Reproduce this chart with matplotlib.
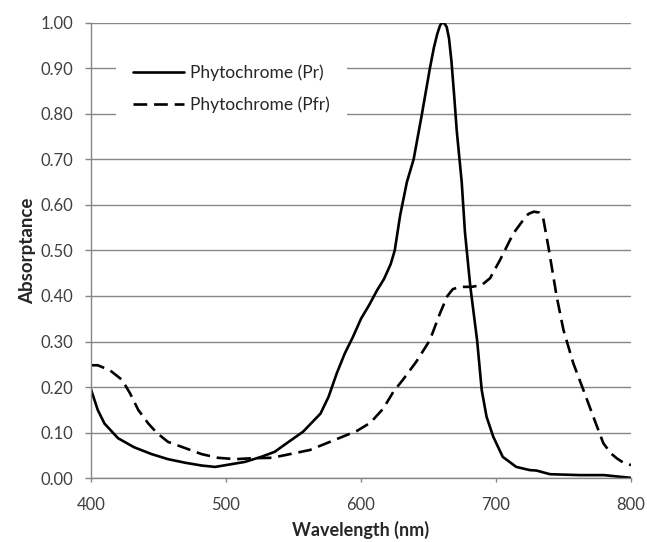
import matplotlib
matplotlib.use("Agg")
import matplotlib.pyplot as plt
from matplotlib.ticker import FormatStrFormatter, MultipleLocator

# absorption spectra, red-absorbing (Pr) and far-red-absorbing (Pfr) forms
pr_nm = [400, 405, 410, 420, 432, 445, 457, 470, 482, 492, 504, 514, 526, 536,
         545, 557, 570, 576, 582, 588, 594, 600, 606, 612, 617, 622, 625, 629,
         634, 639, 645, 651, 654, 656.5, 658.5, 660, 661.8, 663.5, 665.2, 667,
         669, 671, 674.6, 677, 681, 686, 689.4, 693, 698, 705, 715, 725, 730,
         735, 740, 762, 780, 800]
pr_abs = [0.195, 0.150, 0.120, 0.088, 0.068, 0.053, 0.042, 0.034, 0.028, 0.025,
          0.031, 0.036, 0.047, 0.058, 0.077, 0.102, 0.142, 0.179, 0.230, 0.274,
          0.310, 0.350, 0.380, 0.413, 0.437, 0.470, 0.500, 0.577, 0.650, 0.700,
          0.797, 0.899, 0.945, 0.975, 0.993, 1.000, 0.998, 0.990, 0.965, 0.915,
          0.840, 0.760, 0.650, 0.540, 0.420, 0.303, 0.194, 0.135, 0.091, 0.047,
          0.025, 0.018, 0.017, 0.013, 0.009, 0.007, 0.007, 0.001]

pfr_nm = [400, 405, 414, 423, 429, 435, 442.5, 449, 457, 470, 482, 494, 507,
          519, 534, 544, 562, 582, 597, 607, 616.5, 624, 631, 641, 651, 658.5,
          664, 668, 673.3, 682, 689.4, 695.6, 703, 712.8, 720, 724, 728,
          732, 735, 738.8, 745, 750, 757.3, 764.7, 772.1, 779.5, 785, 789.4,
          794, 800]
pfr_abs = [0.248, 0.248, 0.237, 0.216, 0.186, 0.150, 0.120, 0.099, 0.080, 0.066,
           0.053, 0.045, 0.042, 0.044, 0.045, 0.051, 0.062, 0.086, 0.104, 0.122,
           0.153, 0.190, 0.216, 0.256, 0.303, 0.362, 0.400, 0.415, 0.420, 0.420,
           0.424, 0.439, 0.479, 0.537, 0.566, 0.580, 0.585, 0.583, 0.570, 0.508,
           0.398, 0.325, 0.252, 0.194, 0.135, 0.077, 0.055, 0.044, 0.035, 0.029]

x_ticks = [400, 500, 600, 700, 800]

grid_col = "#868686"
text_col = "#404040"

plt.rcParams["font.family"] = ["Lato", "DejaVu Sans"]

fig = plt.figure(figsize=(6.47, 5.42), dpi=100)
ax = fig.add_axes([91 / 647, 1 - 478.3 / 542, 540 / 647, 455.8 / 542])

ax.plot(pr_nm, pr_abs, color="black", lw=1.9, label="Phytochrome (Pr)",
        solid_capstyle="round", solid_joinstyle="round")
ax.plot(pfr_nm, pfr_abs, color="black", lw=1.9, label="Phytochrome (Pfr)",
        dashes=(5.2, 2.6))

ax.set_xlim(400, 800)
ax.set_ylim(0, 1.0)
ax.set_xticks(x_ticks)
ax.yaxis.set_major_locator(MultipleLocator(0.1))
ax.yaxis.set_major_formatter(FormatStrFormatter("%.2f"))

ax.grid(axis="y", color=grid_col, lw=1.0)
ax.set_axisbelow(True)
for side in ("top", "right"):
    ax.spines[side].set_visible(False)
for side in ("left", "bottom"):
    ax.spines[side].set_color(grid_col)
    ax.spines[side].set_linewidth(1.0)

ax.tick_params(axis="y", length=4.3, width=1.0, color=grid_col,
               labelsize=12, labelcolor=text_col, pad=8.5)
ax.tick_params(axis="x", length=3, width=1.0, color=grid_col,
               labelsize=12, labelcolor=text_col, pad=10.5)

ax.set_xlabel("Wavelength (nm)", fontsize=13, fontweight="bold",
              color="#262626", labelpad=6)
ax.set_ylabel("Absorptance", fontsize=13.5, fontweight="bold",
              color="#262626", labelpad=3)

leg = ax.legend(loc="upper left", bbox_to_anchor=(116 / 647, 1 - 47 / 542),
                bbox_transform=fig.transFigure, borderaxespad=0,
                fontsize=12.5, handlelength=2.9, handletextpad=0.35,
                labelspacing=0.9, borderpad=1.0, frameon=True, fancybox=False)
leg.get_frame().set_facecolor("white")
leg.get_frame().set_edgecolor("none")
leg.get_frame().set_alpha(1.0)
for t in leg.get_texts():
    t.set_color("#262626")

fig.savefig("out.png", dpi=100)
